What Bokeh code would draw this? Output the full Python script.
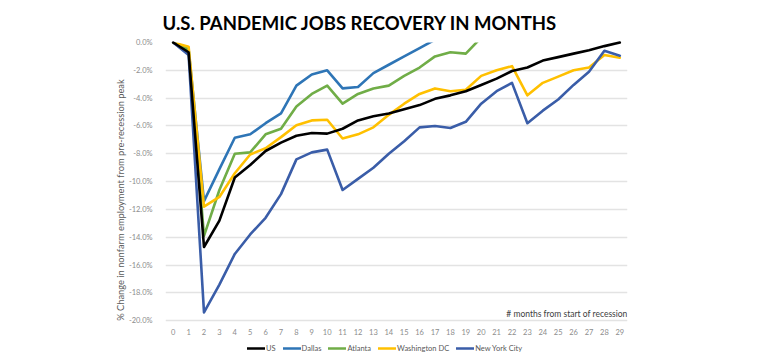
import math
from bokeh.plotting import figure
from bokeh.models import (FixedTicker, PrintfTickFormatter, Label, Legend, LegendItem,
                          ColumnDataSource, Range1d)
from bokeh.core.properties import value
from bokeh.embed import file_html
from bokeh.resources import INLINE

months = list(range(30))
month_labels = [str(m) for m in months]
y_ticks = [-20, -18, -16, -14, -12, -10, -8, -6, -4, -2, 0]

us = [0, -0.7, -14.7, -12.8, -9.7, -8.8, -7.8, -7.2, -6.7, -6.5, -6.55, -6.2, -5.6, -5.3, -5.1,
      -4.8, -4.5, -4.05, -3.8, -3.5, -3.05, -2.6, -2.05, -1.8, -1.3, -1.05, -0.8, -0.55, -0.26, 0.0]
dallas = [0, -0.5, -11.4, -9.1, -6.85, -6.6, -5.8, -5.1, -3.1, -2.3, -2.0, -3.3, -3.2, -2.2, -1.6,
          -1.0, -0.4, 0.2, None, None, None, None, None, None, None, None, None, None, None, None]
atlanta = [0, -0.5, -13.9, -10.6, -8.0, -7.9, -6.6, -6.2, -4.6, -3.7, -3.1, -4.4, -3.7, -3.3, -3.1,
           -2.4, -1.8, -1.0, -0.7, -0.8, 0.35, None, None, None, None, None, None, None, None, None]
dc = [0, -0.3, -11.8, -11.1, -9.4, -8.05, -7.6, -6.8, -5.95, -5.6, -5.55, -6.9, -6.6, -6.1, -5.2,
      -4.4, -3.7, -3.3, -3.5, -3.4, -2.4, -2.0, -1.7, -3.8, -2.9, -2.45, -2.0, -1.8, -0.9, -1.1]
nyc = [0, -0.9, -19.4, -17.4, -15.2, -13.8, -12.6, -10.9, -8.4, -7.9, -7.7, -10.6, -9.8, -9.0, -8.0,
       -7.1, -6.1, -6.0, -6.15, -5.7, -4.4, -3.5, -2.9, -5.8, -4.9, -4.1, -3.05, -2.1, -0.6, -0.95]

series_names = ["US", "Dallas", "Atlanta", "Washington DC", "New York City"]
series_values = [us, dallas, atlanta, dc, nyc]
series_colors = ["#000000", "#2E75B6", "#70AD47", "#FFC000", "#3A5DA8"]

FONT = "Lato"
PX_PER_PCT = 14.0
FRAME_H = 317
Y_BOTTOM = -FRAME_H / PX_PER_PCT   # frame extends below -20% to hold tick labels and legend
TICK_LABEL_Y = -20.0 - 11 / PX_PER_PCT

p = figure(width=760, height=361, x_range=Range1d(-0.5, 29.5), y_range=Range1d(Y_BOTTOM, 0),
           output_backend="svg", toolbar_location=None,
           min_border_left=165, min_border_right=133, min_border_top=40, min_border_bottom=4)
p.outline_line_color = None
p.background_fill_color = "white"
p.border_fill_color = "white"

p.title.text = "U.S. PANDEMIC JOBS RECOVERY IN MONTHS"
p.title.align = "left"
p.title.offset = -3
p.title.text_font = FONT
p.title.text_font_style = "bold"
p.title.text_font_size = "18.5px"
p.title.text_color = "#000000"
p.title.standoff = 18

p.xgrid.visible = False
p.xaxis.visible = False
p.ygrid.grid_line_color = "#E3E3E3"
p.ygrid.grid_line_width = 1.3
p.yaxis.ticker = FixedTicker(ticks=y_ticks)
p.yaxis.formatter = PrintfTickFormatter(format="%.1f%%")

ax = p.yaxis[0]
ax.axis_line_color = None
ax.major_tick_line_color = None
ax.minor_tick_line_color = None
ax.major_label_text_font = FONT
ax.major_label_text_font_size = "7.5px"
ax.major_label_text_color = "#8C8C8C"
ax.major_label_standoff = 7
ax.axis_label = "% Change in nonfarm employment from pre-recession peak"
ax.axis_label_text_font = FONT
ax.axis_label_text_font_size = "9.3px"
ax.axis_label_text_font_style = "normal"
ax.axis_label_text_color = "#595959"
ax.axis_label_standoff = 0

# month tick labels along the -20% baseline
tick_src = ColumnDataSource(dict(x=months, y=[TICK_LABEL_Y] * len(months), t=month_labels))
p.text("x", "y", text="t", source=tick_src, text_font=value(FONT), text_font_size="7.5px",
       text_color="#8C8C8C", text_align="center", text_baseline="middle")

renderers = []
for name, vals, col in zip(series_names, series_values, series_colors):
    ys = [float("nan") if v is None else v for v in vals]
    src = ColumnDataSource(dict(x=months, y=ys))
    r = p.line("x", "y", source=src, line_color=col, line_width=2.6, line_join="round", line_cap="round")
    renderers.append((name, r))

renderers[0][1].level = "overlay"

legend = Legend(items=[LegendItem(label=n, renderers=[r]) for n, r in renderers],
                location=(82, 4), orientation="horizontal",
                padding=0, margin=0, spacing=7, glyph_width=18, glyph_height=10,
                label_standoff=1, label_width=0, label_height=10,
                label_text_font=FONT, label_text_font_size="7.5px", label_text_color="#595959",
                border_line_alpha=0, background_fill_alpha=0)
p.add_layout(legend)

p.add_layout(Label(x=462, y=44, x_units="screen", y_units="screen",
                   text="# months from start of recession", text_font=FONT,
                   text_font_size="8.5px", text_color="#404040",
                   text_align="right", text_baseline="middle"))

open("out.html", "w").write(file_html(p, INLINE))
